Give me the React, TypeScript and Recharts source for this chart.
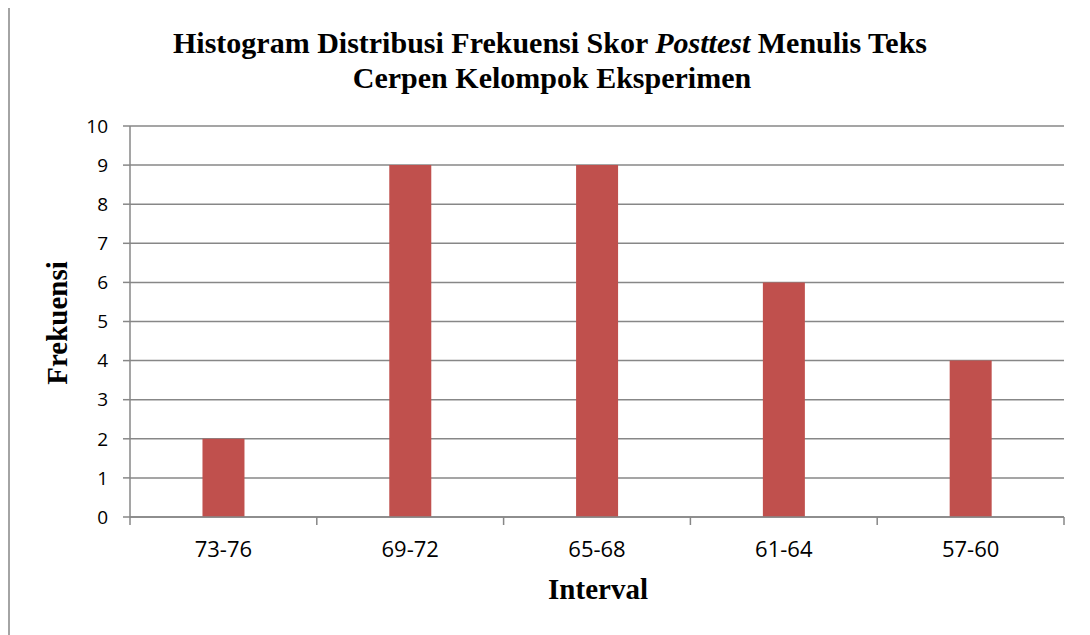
import { BarChart, Bar, XAxis, YAxis, CartesianGrid } from "recharts";

// data
const intervals = ["73-76", "69-72", "65-68", "61-64", "57-60"];
const frequencies = [2, 9, 9, 6, 4];
const yTicks = [0, 1, 2, 3, 4, 5, 6, 7, 8, 9, 10];

const data = intervals.map((interval, i) => ({ interval, frekuensi: frequencies[i] }));

const GRAY = "#878787";
const TICK_SIZE = 8;
const TICK_MARGIN = 24;

// label in the middle of the band, tick marks on the band edges (like excel)
function IntervalTick(props: any) {
    const { x, y, payload, index, visibleTicksCount, width } = props;
    const half =
        payload && payload.offset ? payload.offset : width / visibleTicksCount / 2;
    const top = y - TICK_MARGIN - TICK_SIZE;
    const bottom = y - TICK_MARGIN;
    return (
        <g>
            <line x1={x - half} x2={x - half} y1={top} y2={bottom} stroke={GRAY} strokeWidth={1.5} />
            {index === visibleTicksCount - 1 && (
                <line x1={x + half} x2={x + half} y1={top} y2={bottom} stroke={GRAY} strokeWidth={1.5} />
            )}
            <text
                x={x}
                y={y}
                dy="0.36em"
                textAnchor="middle"
                fontSize={22}
                fontFamily="'Open Sans', sans-serif"
                fill="#000"
            >
                {payload.value}
            </text>
        </g>
    );
}

export default function App() {
    const serif = "'Liberation Serif', 'Times New Roman', serif";
    return (
        <div style={{ position: "relative", width: 1090, height: 635, margin: "-8px 0 0 -8px", background: "#fff", overflow: "hidden" }}>
            <BarChart
                width={1090}
                height={635}
                data={data}
                margin={{ top: 126, right: 26, bottom: 88, left: 0 }}
                barCategoryGap="38.8%"
            >
                <CartesianGrid vertical={false} stroke={GRAY} strokeWidth={1.5} />
                <XAxis
                    dataKey="interval"
                    interval={0}
                    height={30}
                    tickSize={TICK_SIZE}
                    tickMargin={TICK_MARGIN}
                    tickLine={false}
                    axisLine={{ stroke: GRAY, strokeWidth: 1.5 }}
                    tick={<IntervalTick />}
                />
                <YAxis
                    width={130}
                    domain={[0, 10]}
                    ticks={yTicks}
                    interval={0}
                    tickSize={7}
                    tickMargin={15}
                    axisLine={{ stroke: GRAY, strokeWidth: 1.5 }}
                    tickLine={{ stroke: GRAY, strokeWidth: 1.5 }}
                    tick={{ fontSize: 19, fill: "#000", fontFamily: "'Open Sans', sans-serif" }}
                />
                <Bar dataKey="frekuensi" fill="#C0504D" isAnimationActive={false} />
            </BarChart>

            <svg
                width={1090}
                height={635}
                style={{ position: "absolute", left: 0, top: 0, pointerEvents: "none" }}
            >
                <rect x={9} y={6} width={1100} height={650} fill="none" stroke={GRAY} strokeWidth={1.5} />
                <text x={550} y={53} textAnchor="middle" fontFamily={serif} fontWeight="bold" fontSize={30}>
                    Histogram Distribusi Frekuensi Skor <tspan fontStyle="italic">Posttest</tspan> Menulis Teks
                </text>
                <text x={552} y={88} textAnchor="middle" fontFamily={serif} fontWeight="bold" fontSize={30}>
                    Cerpen Kelompok Eksperimen
                </text>
                <text
                    x={67}
                    y={323}
                    transform="rotate(-90 67 323)"
                    textAnchor="middle"
                    fontFamily={serif}
                    fontWeight="bold"
                    fontSize={29}
                >
                    Frekuensi
                </text>
                <text x={598} y={599} textAnchor="middle" fontFamily={serif} fontWeight="bold" fontSize={29}>
                    Interval
                </text>
            </svg>
        </div>
    );
}
